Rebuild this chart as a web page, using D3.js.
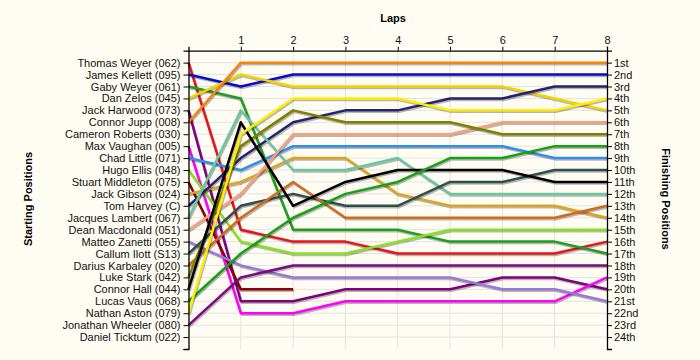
<!DOCTYPE html>
<html><head><meta charset="utf-8">
<script src="https://cdn.jsdelivr.net/npm/d3@7"></script>
<style>
html,body{margin:0;padding:0;background:#fffdf3;}
text{font-family:"Liberation Sans",Arial,sans-serif;}
</style></head>
<body>
<svg id="chart" width="700" height="360"></svg>
<script>
const laps = [0,1,2,3,4,5,6,7,8];
const lapLabels = ["1","2","3","4","5","6","7","8"];
const drivers = ["Thomas Weyer (062)","James Kellett (095)","Gaby Weyer (061)","Dan Zelos (045)",
 "Jack Harwood (073)","Connor Jupp (008)","Cameron Roberts (030)","Max Vaughan (005)",
 "Chad Little (071)","Hugo Ellis (048)","Stuart Middleton (075)","Jack Gibson (024)",
 "Tom Harvey (C)","Jacques Lambert (067)","Dean Macdonald (051)","Matteo Zanetti (055)",
 "Callum Ilott (S13)","Darius Karbaley (020)","Luke Stark (042)","Connor Hall (044)",
 "Lucas Vaus (068)","Nathan Aston (079)","Jonathan Wheeler (080)","Daniel Ticktum (022)"];
const finishLabels = ["1st","2nd","3rd","4th","5th","6th","7th","8th","9th","10th","11th","12th",
 "13th","14th","15th","16th","17th","18th","19th","20th","21st","22nd","23rd","24th"];
const driverColors = ["#e8141b","#0a0acd","#1e9e1e","#f2d400","#800080","#f7830f",null,"#ff00ff",
 "#2e8ff0","#86e21e","#8b0000","#daa520","#23236e","#6cc6a2","#f7a080","#9878dc",
 "#2f4f4f","#d2691e","#808000","#000000","#16a016","#ffee00","#7a0a85",null];
// positions at laps 0..8 (null = not running)
const positions = [
 [1,15,16,16,17,17,17,17,16],
 [2,3,2,2,2,2,2,2,2],
 [3,4,15,15,15,16,16,16,17],
 [4,2,3,3,3,3,3,4,5],
 [5,21,21,20,20,20,19,19,20],
 [6,1,1,1,1,1,1,1,1],
 null,
 [8,22,22,21,21,21,21,21,19],
 [9,10,8,8,8,8,8,9,9],
 [10,16,17,17,16,15,15,15,15],
 [11,20,20,null,null,null,null,null,null],
 [12,11,9,9,12,13,13,13,14],
 [13,9,6,5,5,4,4,3,3],
 [14,5,10,10,9,12,12,12,12],
 [15,12,7,7,7,7,6,6,6],
 [16,18,19,19,19,19,20,20,21],
 [17,13,12,13,13,11,11,10,10],
 [18,14,11,14,14,14,14,14,13],
 [19,8,5,6,6,6,7,7,7],
 [20,6,13,11,10,10,10,11,11],
 [21,17,14,12,11,9,9,8,8],
 [22,7,4,4,4,5,5,5,4],
 [23,19,18,18,18,18,18,18,18],
 null
];

const svg = d3.select("#chart");
svg.append("rect").attr("width",700).attr("height",360).attr("fill","#fffdf3");

const x = d3.scaleLinear().domain([0,8]).range([188.5,607]);
const y = d3.scaleLinear().domain([0,25]).range([50.7,349]);
const posTicks = d3.range(1,26);

// grid
const g = svg.append("g");
g.selectAll("line.h").data(d3.range(1,25)).join("line")
 .attr("x1",x(0)).attr("x2",x(8)).attr("y1",d=>y(d)).attr("y2",d=>y(d))
 .attr("stroke","#e2e2e2").attr("stroke-width",1);
g.selectAll("line.v").data(d3.range(1,8)).join("line")
 .attr("x1",d=>x(d)).attr("x2",d=>x(d)).attr("y1",y(0)).attr("y2",y(25))
 .attr("stroke","#e2e2e2").attr("stroke-width",1);

// lines
const line = d3.line().defined(d=>d[1]!=null).x(d=>x(d[0])).y(d=>y(d[1]));
const series = positions.map((p,i)=>p?{i,pts:p.map((v,j)=>[laps[j],v]),color:driverColors[i]}:null).filter(Boolean);
const lg = svg.append("g");
series.forEach(s=>{
  lg.append("path").attr("d",line(s.pts)).attr("fill","none")
    .attr("stroke","#000").attr("stroke-opacity",0.28).attr("stroke-width",2.5)
    .attr("transform","translate(1,1.5)").attr("stroke-linejoin","round");
  lg.append("path").attr("d",line(s.pts)).attr("fill","none")
    .attr("stroke",s.color).attr("stroke-width",2.5).attr("stroke-linejoin","round");
});

// axes
const axLeft = d3.axisLeft(y).tickValues(posTicks).tickSize(5).tickPadding(3)
  .tickFormat(d=>d<=24?drivers[d-1]:"");
const axRight = d3.axisRight(y).tickValues(posTicks).tickSize(5).tickPadding(2)
  .tickFormat(d=>d<=24?finishLabels[d-1]:"");
const axTop = d3.axisTop(x).tickValues(d3.range(1,9)).tickSize(4).tickPadding(3)
  .tickFormat(d=>lapLabels[d-1]);

function style(sel){
  sel.select(".domain").attr("stroke","#000").attr("stroke-width",1.3);
  sel.selectAll(".tick line").attr("stroke","#000");
  sel.selectAll("text").attr("font-size","11px").attr("fill","#111")
    .attr("font-family","'Liberation Sans',Arial,sans-serif");
}
svg.append("g").attr("transform",`translate(${x(0)},0)`).call(axLeft).call(style);
svg.append("g").attr("transform",`translate(${x(8)},0)`).call(axRight).call(style);
svg.append("g").attr("transform",`translate(0,${y(0)})`).call(axTop).call(style);

// titles
svg.append("text").attr("x",393).attr("y",22).attr("text-anchor","middle")
 .attr("font-size","11px").attr("font-weight","bold").text("Laps");
svg.append("text").attr("transform","translate(32,199) rotate(-90)").attr("text-anchor","middle")
 .attr("font-size","11px").attr("font-weight","bold").text("Starting Positions");
svg.append("text").attr("transform","translate(662,199) rotate(90)").attr("text-anchor","middle")
 .attr("font-size","11px").attr("font-weight","bold").text("Finishing Positions");
</script>
</body></html>
